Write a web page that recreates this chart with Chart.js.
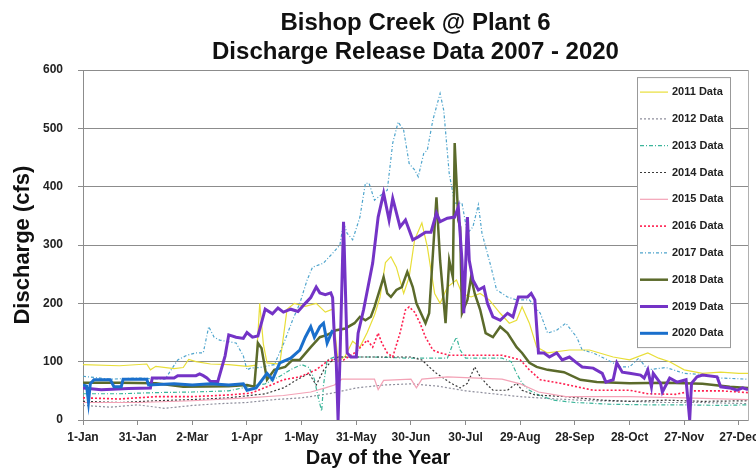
<!DOCTYPE html>
<html>
<head>
<meta charset="utf-8">
<script src="https://cdn.jsdelivr.net/npm/chart.js@4.4.1/dist/chart.umd.min.js"></script>
<style>
  html, body { margin: 0; padding: 0; background: #fff; }
</style>
</head>
<body>
<canvas id="myChart" width="756" height="471"></canvas>
<script>
// x tick labels, one every 30 days
const dayLabels = ['1-Jan', '31-Jan', '2-Mar', '1-Apr', '1-May', '31-May', '30-Jun',
                   '30-Jul', '29-Aug', '28-Sep', '28-Oct', '27-Nov', '27-Dec'];

// [day of year, discharge cfs]
const flow2011 = [[0,95],[20,93],[35,96],[37,86],[40,92],[50,88],[55,90],[58,104],[62,100],[70,96],[80,95],[90,92],[95,94],[97,200],[99,130],[101,98],[108,96],[112,190],[116,200],[122,195],[128,200],[133,185],[137,190],[140,100],[144,110],[148,135],[152,125],[156,150],[160,180],[163,210],[166,270],[169,280],[172,262],[176,217],[179,245],[182,309],[186,338],[189,297],[193,217],[196,200],[200,228],[205,240],[208,217],[213,211],[218,217],[223,206],[229,183],[234,166],[238,171],[241,194],[245,166],[249,125],[255,115],[267,120],[278,120],[291,108],[300,103],[310,115],[316,106],[322,100],[330,86],[340,80],[350,82],[360,80],[365,80]];
const flow2012 = [[0,25],[15,22],[30,26],[45,20],[60,25],[75,28],[90,30],[105,35],[120,38],[135,45],[150,55],[165,60],[180,62],[195,58],[210,50],[225,45],[240,40],[260,36],[280,33],[300,32],[320,30],[340,30],[365,28]];
const flow2013 = [[0,45],[20,45],[40,47],[60,48],[80,50],[92,58],[100,62],[108,75],[115,88],[120,95],[124,90],[127,70],[129,40],[131,15],[132,60],[134,103],[138,108],[160,108],[180,106],[200,106],[203,130],[205,142],[207,120],[210,106],[230,106],[235,100],[238,80],[241,63],[245,51],[250,43],[258,34],[270,30],[290,27],[310,26],[330,26],[350,25],[365,26]];
const flow2014 = [[0,32],[20,30],[40,33],[60,35],[80,38],[100,45],[110,55],[118,70],[124,80],[128,60],[132,85],[136,100],[140,108],[160,108],[180,108],[186,103],[190,91],[194,80],[202,63],[207,55],[211,63],[215,91],[218,74],[222,60],[225,51],[233,51],[238,63],[241,51],[248,43],[265,40],[285,34],[300,32],[320,34],[340,32],[365,33]];
const flow2015 = [[0,30],[30,30],[60,33],[90,38],[110,42],[125,48],[133,55],[138,60],[142,70],[160,70],[162,52],[165,68],[180,70],[183,55],[186,70],[200,74],[230,70],[240,62],[250,48],[265,40],[300,40],[330,38],[365,35]];
const flow2016 = [[0,38],[20,36],[40,40],[60,40],[80,43],[92,46],[101,57],[110,69],[119,74],[128,86],[135,103],[143,103],[150,117],[156,137],[159,125],[162,149],[164,132],[167,115],[170,108],[174,149],[177,189],[179,194],[182,185],[185,166],[188,142],[192,120],[196,115],[201,111],[230,111],[240,103],[245,86],[251,69],[262,63],[280,51],[300,51],[310,45],[325,44],[335,50],[350,50],[365,47]];
const flow2017 = [[0,75],[15,70],[30,72],[45,70],[52,103],[57,111],[62,115],[66,115],[69,160],[72,142],[75,137],[84,132],[88,110],[90,86],[92,89],[97,90],[105,95],[110,130],[115,171],[119,200],[123,240],[126,262],[132,269],[137,286],[141,300],[143,338],[145,320],[148,309],[152,348],[155,406],[157,406],[160,377],[167,394],[170,475],[173,511],[176,497],[179,440],[182,429],[184,417],[187,457],[189,463],[192,514],[196,560],[198,531],[201,423],[204,372],[208,372],[211,320],[214,331],[217,369],[219,320],[224,262],[227,223],[233,211],[238,206],[245,206],[251,183],[255,149],[260,154],[265,166],[271,142],[274,120],[280,115],[288,103],[295,91],[300,91],[305,106],[310,86],[320,90],[330,80],[340,78],[350,72],[365,70]];
const flow2018 = [[0,64],[20,64],[40,63],[55,57],[80,58],[90,60],[94,57],[96,132],[98,123],[101,69],[105,86],[111,91],[115,103],[119,103],[125,125],[130,142],[134,146],[139,154],[144,157],[149,166],[152,177],[155,171],[158,177],[160,194],[165,245],[167,217],[169,211],[172,223],[175,228],[178,254],[181,228],[183,200],[188,166],[190,183],[194,382],[196,274],[199,166],[201,274],[203,245],[204,475],[206,343],[207,331],[208,183],[211,206],[213,245],[215,217],[218,189],[221,149],[225,142],[229,160],[233,149],[238,125],[241,115],[245,98],[249,91],[255,86],[264,82],[273,69],[282,65],[300,63],[320,64],[340,62],[355,57],[365,55]];
const flow2019 = [[0,55],[10,52],[25,54],[37,55],[38,72],[50,72],[52,76],[62,76],[64,79],[66,76],[68,72],[70,66],[74,66],[78,110],[80,146],[84,142],[88,140],[90,150],[93,142],[96,144],[100,190],[104,182],[107,192],[110,185],[114,190],[118,186],[122,200],[125,210],[128,228],[130,218],[133,215],[136,218],[137,210],[138,140],[139,100],[140,0],[141,100],[143,340],[145,115],[147,108],[150,108],[151,149],[154,189],[159,269],[162,348],[165,389],[168,343],[170,380],[174,331],[177,343],[181,309],[184,314],[188,322],[191,322],[194,355],[196,340],[200,346],[204,348],[206,365],[208,274],[209,183],[211,348],[212,274],[214,240],[217,223],[220,228],[222,200],[225,177],[229,171],[233,183],[236,177],[239,211],[244,211],[246,217],[248,206],[250,115],[253,115],[256,108],[260,115],[263,103],[267,108],[271,98],[274,91],[280,89],[285,80],[287,65],[291,69],[293,98],[296,82],[300,80],[306,77],[308,72],[310,86],[312,57],[313,80],[317,63],[318,48],[322,72],[326,65],[331,69],[333,0],[334,63],[337,74],[340,77],[348,74],[350,57],[355,55],[359,51],[362,55],[365,52]];
const flow2020 = [[0,60],[2,58],[3,31],[4,62],[6,69],[15,69],[17,57],[21,57],[22,70],[35,70],[36,60],[50,62],[60,60],[70,62],[80,60],[88,62],[90,51],[95,55],[101,80],[104,69],[108,98],[114,106],[119,120],[122,142],[125,160],[127,142],[130,160],[132,166],[134,132],[137,154]];

const seriesNames = ['2011 Data', '2012 Data', '2013 Data', '2014 Data', '2015 Data',
                     '2016 Data', '2017 Data', '2018 Data', '2019 Data', '2020 Data'];
const seriesData = [flow2011, flow2012, flow2013, flow2014, flow2015,
                    flow2016, flow2017, flow2018, flow2019, flow2020];
const seriesStyle = [
    { color: '#e8de38', width: 1.2, dash: [] },
    { color: '#8e8e9c', width: 1.2, dash: [2, 2] },
    { color: '#3cb59a', width: 1.2, dash: [4, 2, 1, 2] },
    { color: '#3a3a3a', width: 1.2, dash: [2, 2] },
    { color: '#f3a2b6', width: 1.2, dash: [] },
    { color: '#ff1f4f', width: 1.6, dash: [2, 2] },
    { color: '#4ea4cc', width: 1.2, dash: [3, 2, 1, 2] },
    { color: '#5b6a2b', width: 2.5, dash: [] },
    { color: '#7433c6', width: 3, dash: [] },
    { color: '#1a6fcc', width: 3, dash: [] }
];

const fontFamily = '"Liberation Sans", Arial, sans-serif';
Chart.defaults.font.family = fontFamily;
Chart.defaults.color = '#222';

// legend box drawn inside the plot, top right
const boxLegend = {
    id: 'boxLegend',
    afterDatasetsDraw(chart) {
        const { ctx, chartArea } = chart;
        const w = 93, h = 270;
        const left = chartArea.right - 18 - w;
        const top = chartArea.top + 7;
        ctx.save();
        ctx.fillStyle = '#fff';
        ctx.fillRect(left, top, w, h);
        ctx.strokeStyle = '#999';
        ctx.lineWidth = 1;
        ctx.strokeRect(left + 0.5, top + 0.5, w, h);
        ctx.font = 'bold 11px ' + fontFamily;
        ctx.textBaseline = 'middle';
        chart.data.datasets.forEach((ds, i) => {
            const y = top + 15 + i * 26.8;
            ctx.strokeStyle = ds.borderColor;
            ctx.lineWidth = ds.borderWidth;
            ctx.setLineDash(ds.borderDash);
            ctx.beginPath();
            ctx.moveTo(left + 3, y);
            ctx.lineTo(left + 31, y);
            ctx.stroke();
            ctx.setLineDash([]);
            ctx.fillStyle = '#222';
            ctx.fillText(ds.label, left + 35, y);
        });
        ctx.restore();
    }
};

const ctx = document.getElementById('myChart').getContext('2d');
const myChart = new Chart(ctx, {
    type: 'line',
    data: {
        datasets: seriesNames.map((name, i) => ({
            label: name,
            data: seriesData[i].map(p => ({ x: p[0], y: p[1] })),
            borderColor: seriesStyle[i].color,
            borderWidth: seriesStyle[i].width,
            borderDash: seriesStyle[i].dash,
            pointRadius: 0,
            tension: 0,
            fill: false,
            order: seriesNames.length - i
        }))
    },
    plugins: [boxLegend],
    options: {
        responsive: false,
        animation: false,
        layout: { padding: 0 },
        plugins: {
            legend: { display: false },
            tooltip: { enabled: false },
            title: {
                display: true,
                fullSize: false,
                text: ['Bishop Creek @ Plant 6', 'Discharge Release Data 2007 - 2020'],
                color: '#111',
                font: { size: 24, weight: 'bold', lineHeight: 1.2 },
                padding: { top: 9, bottom: 3.5 }
            },
            // x axis caption, centred on the whole canvas like the original
            subtitle: {
                display: true,
                position: 'bottom',
                text: 'Day of the Year',
                color: '#111',
                font: { size: 20, weight: 'bold', lineHeight: 1.2 },
                padding: { top: 0, bottom: 1 }
            }
        },
        scales: {
            x: {
                type: 'linear',
                min: 0,
                max: 365,
                afterBuildTicks: s => { s.ticks = dayLabels.map((_, i) => ({ value: i * 30 })); },
                afterFit: s => { s.height = 26; s.paddingLeft = 0; s.paddingRight = 0; },
                ticks: {
                    maxRotation: 0,
                    autoSkip: false,
                    padding: 5,
                    font: { size: 12, weight: 'bold' },
                    callback: v => dayLabels[Math.round(v / 30)]
                },
                grid: { drawOnChartArea: false, tickLength: 5, color: '#8c8c8c' },
                border: { color: '#8c8c8c' }
            },
            y: {
                min: 0,
                max: 600,
                afterFit: s => { s.width = 83; },
                ticks: {
                    stepSize: 100,
                    padding: 15,
                    font: { size: 12, weight: 'bold' }
                },
                grid: { color: '#8c8c8c', tickLength: 5 },
                border: { color: '#8c8c8c' },
                title: {
                    display: true,
                    text: 'Discharge (cfs)',
                    font: { size: 22, weight: 'bold' },
                    color: '#111',
                    padding: { top: 10, bottom: 0 }
                }
            },
            y2: {
                position: 'right',
                min: 0,
                max: 600,
                afterFit: s => { s.width = 8; },
                ticks: { display: false },
                grid: { drawOnChartArea: false, drawTicks: false },
                border: { color: '#b0b0b0' }
            }
        }
    }
});
</script>
</body>
</html>
